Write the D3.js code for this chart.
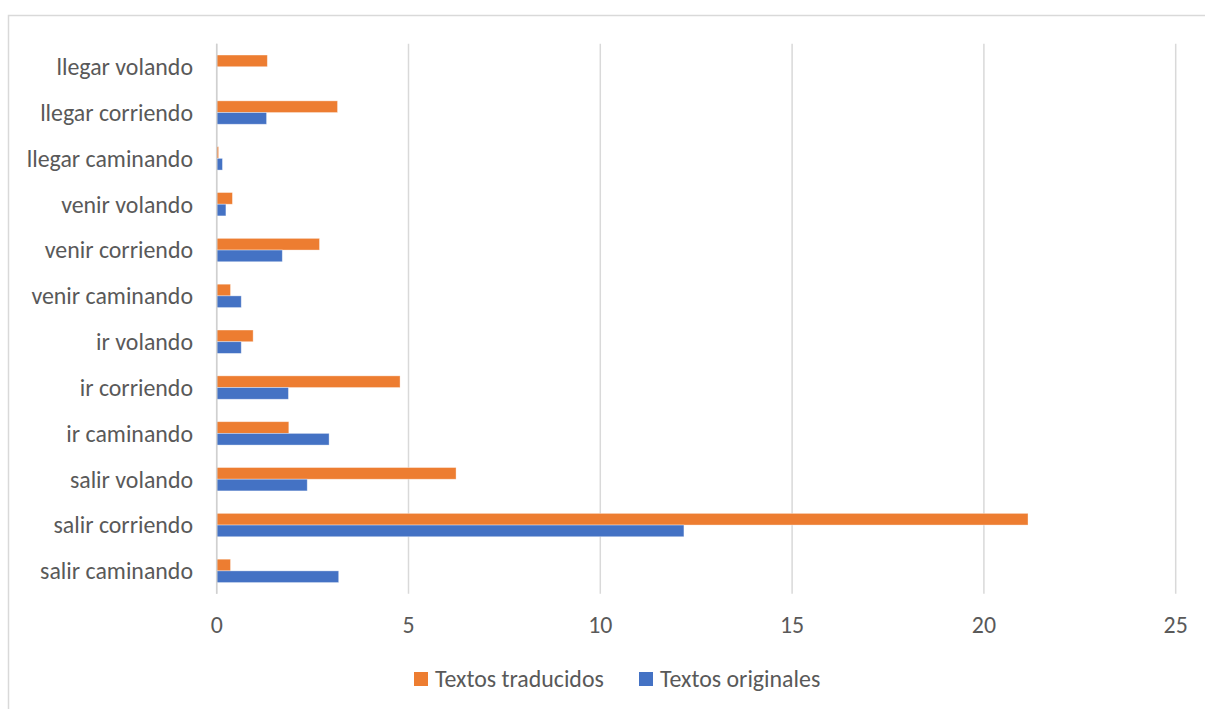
<!DOCTYPE html>
<html><head><meta charset="utf-8">
<script src="https://cdn.jsdelivr.net/npm/d3@7"></script>
<style>html,body{margin:0;padding:0;background:#fff;overflow:hidden}</style>
</head><body>
<svg id="c" width="1205" height="709"></svg>
<script>
const categories = ["salir caminando","salir corriendo","salir volando","ir caminando","ir corriendo","ir volando","venir caminando","venir corriendo","venir volando","llegar caminando","llegar corriendo","llegar volando"];
const traducidos = [0.36, 21.15, 6.24, 1.88, 4.78, 0.95, 0.36, 2.68, 0.41, 0.05, 3.15, 1.32];
const originales = [3.18, 12.18, 2.36, 2.93, 1.87, 0.64, 0.64, 1.71, 0.24, 0.15, 1.30, 0];
const xTicks = [0, 5, 10, 15, 20, 25];
const seriesNames = ["Textos traducidos", "Textos originales"];
const colors = ["#ED7D31", "#4472C4"];

const svg = d3.select("#c");
const FONT = "Carlito, 'Open Sans', sans-serif";
const textColor = "#595959";

// fit font size so label width resembles reference
const probe = svg.append("text").attr("font-family", FONT).attr("font-size", 20).text("salir caminando");
const w20 = probe.node().getComputedTextLength();
probe.remove();
const fs = 20 * 153 / w20;

// chart border
svg.append("rect").attr("x", 8.5).attr("y", 15.5).attr("width", 1300).attr("height", 800)
  .attr("fill", "none").attr("stroke", "#d9d9d9").attr("stroke-width", 1.5);

const x = d3.scaleLinear().domain([0, 25]).range([216.7, 1175.7]);
const y = d3.scaleBand().domain(categories.slice().reverse()).range([43.8, 593.8]);
const barH = y.bandwidth() * 0.255;

// gridlines
svg.append("g").selectAll("line").data(xTicks).join("line")
  .attr("x1", d => x(d)).attr("x2", d => x(d))
  .attr("y1", 43.8).attr("y2", 593.8)
  .attr("stroke", "#d9d9d9").attr("stroke-width", 1.5);

// bars
const groups = svg.append("g").selectAll("g").data(categories).join("g");
[traducidos, originales].forEach((vals, si) => {
  groups.append("rect")
    .attr("x", x(0))
    .attr("y", (d) => y(d) + y.bandwidth() / 2 - barH + si * barH)
    .attr("width", (d, i) => Math.max(0, x(vals[i]) - x(0)))
    .attr("height", barH)
    .attr("fill", colors[si])
    .attr("stroke", "#fff").attr("stroke-opacity", 0.45).attr("stroke-width", 0.8);
});

// left axis line
svg.append("line").attr("x1", x(0)).attr("x2", x(0)).attr("y1", 43.8).attr("y2", 593.8)
  .attr("stroke", "#d0d0d0").attr("stroke-width", 1.5);

// y labels
svg.append("g").selectAll("text").data(categories).join("text")
  .attr("x", 193).attr("y", d => y(d) + y.bandwidth() / 2)
  .attr("dy", "0.35em").attr("text-anchor", "end")
  .attr("font-family", FONT).attr("font-size", fs).attr("fill", textColor)
  .text(d => d);

// x tick labels
svg.append("g").selectAll("text").data(xTicks).join("text")
  .attr("x", d => x(d)).attr("y", 624.5).attr("dy", "0.35em").attr("text-anchor", "middle")
  .attr("font-family", FONT).attr("font-size", fs).attr("fill", textColor)
  .text(d => d);

// legend
const legX = [414, 639];
seriesNames.forEach((n, i) => {
  svg.append("rect").attr("x", legX[i]).attr("y", 672).attr("width", 14).attr("height", 14).attr("fill", colors[i]);
  svg.append("text").attr("x", legX[i] + 21).attr("y", 679).attr("dy", "0.35em")
    .attr("font-family", FONT).attr("font-size", fs).attr("fill", textColor).text(n);
});
</script>
</body></html>
